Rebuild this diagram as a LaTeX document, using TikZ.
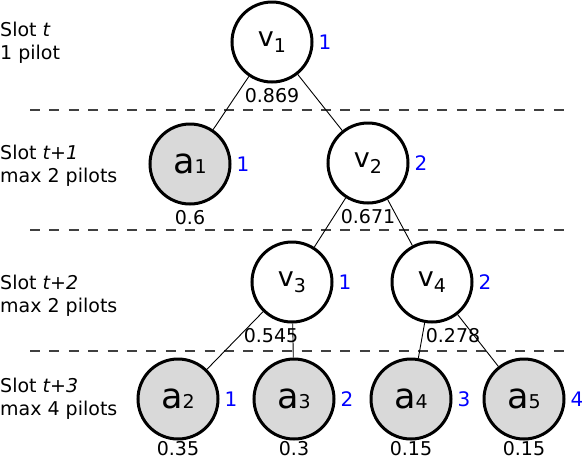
\documentclass[tikz,border=0pt]{standalone}
\usepackage{fontspec}
\setmainfont{DejaVu Sans}
\newcommand{\vsub}[1]{\raisebox{-6pt}{\fontsize{19}{19}\selectfont #1}}
\newcommand{\asub}[1]{{\fontsize{19}{19}\selectfont #1}}
\begin{document}
\begin{tikzpicture}[x=1pt, y=-1pt,
    every node/.style={font=\fontsize{19}{23.5}\selectfont},
    state/.style={circle, draw, line width=3pt, minimum size=80pt, inner sep=0pt},
    vnode/.style={state, fill=white, font=\fontsize{27}{27}\selectfont},
    anode/.style={state, fill=black!15, font=\fontsize{35}{35}\selectfont},
    pilot/.style={text=blue, font=\fontsize{20}{20}\selectfont, inner sep=5pt},
    prob/.style={font=\fontsize{19}{19}\selectfont, inner sep=1pt, text height=14pt, text depth=0pt, label distance=4pt},
    leaf/.style={prob, label distance=0pt},
    slot/.style={align=left, anchor=west, inner sep=0pt},
    sep/.style={black!75, line width=1.8pt, dash pattern=on 10pt off 9.4pt},
    edge/.style={line width=0.9pt}]
    \useasboundingbox (0,0) rectangle (582,459);

    % slot separators
    \draw[sep] (30,110) -- (564,110);
    \draw[sep] (30,230) -- (564,230);
    \draw[sep] (30,351) -- (564,351);

    % slot descriptions
    \node[slot] (s0) at (0,43) {Slot \textit{t}\\1 pilot};
    \node[slot] (s1) at (0,166) {Slot \textit{t+1}\\max 2 pilots};
    \node[slot] (s2) at (0,296) {Slot \textit{t+2}\\max 2 pilots};
    \node[slot] (s3) at (0,399) {Slot \textit{t+3}\\max 4 pilots};

    % tree
    \node[vnode, label={[pilot]right:1}, label={[prob]below:0.869}] (v1) at (272,42) {v\vsub{1}};
    \node[anode, label={[pilot]right:1}, label={[prob]below:0.6}] (a1) at (190,164) {a\asub{1}};
    \node[vnode, label={[pilot]right:2}, label={[prob]below:0.671}] (v2) at (368,163) {v\vsub{2}};
    \node[vnode, label={[pilot]right:1}, label={[prob, xshift=-21pt]below:0.545}] (v3) at (292,282) {v\vsub{3}};
    \node[vnode, label={[pilot]right:2}, label={[prob, xshift=21pt]below:0.278}] (v4) at (432,282) {v\vsub{4}};
    \node[anode, label={[pilot]right:1}, label={[leaf]below:0.35}] (a2) at (178,399) {a\asub{2}};
    \node[anode, label={[pilot]right:2}, label={[leaf]below:0.3}] (a3) at (294,399) {a\asub{3}};
    \node[anode, label={[pilot]right:3}, label={[leaf]below:0.15}] (a4) at (411,399) {a\asub{4}};
    \node[anode, label={[pilot]right:4}, label={[leaf]below:0.15}] (a5) at (524,399) {a\asub{5}};

    \draw[edge] (v1) -- (a1);
    \draw[edge] (v1) -- (v2);
    \draw[edge] (v2) -- (v3);
    \draw[edge] (v2) -- (v4);
    \draw[edge] (v3) -- (a2);
    \draw[edge] (v3) -- (a3);
    \draw[edge] (v4) -- (a4);
    \draw[edge] (v4) -- (a5);
\end{tikzpicture}
\end{document}
